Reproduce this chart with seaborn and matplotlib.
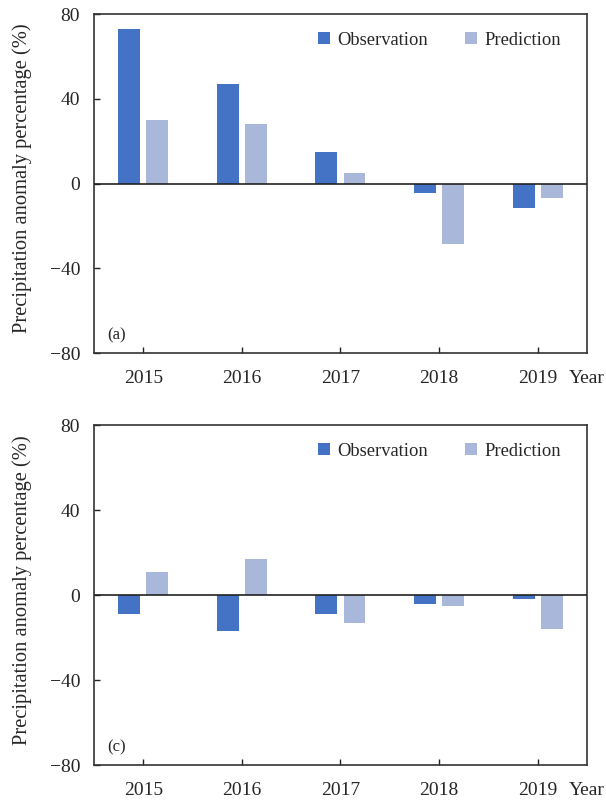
import matplotlib
matplotlib.use("Agg")
import matplotlib.pyplot as plt
import seaborn as sns
import pandas as pd

# Precipitation anomaly percentage by year
years = ["2015", "2016", "2017", "2018", "2019"]
obs_a = [73, 47, 15, -4.5, -11.5]
pred_a = [30, 28, 5, -28.5, -7]
obs_c = [-9, -17, -9, -4, -2]
pred_c = [11, 17, -13, -5, -16]
series = ["Observation", "Prediction"]
panel_tags = ["(a)", "(c)"]
yticks = [-80, -40, 0, 40, 80]

colors = {"Observation": "#4472C4", "Prediction": "#A9B7DB"}

sns.set_style("white")
plt.rcParams["font.family"] = ["Liberation Serif", "DejaVu Serif"]
plt.rcParams["axes.unicode_minus"] = True


def long_frame(obs, pred):
    return pd.DataFrame({
        "year": years * 2,
        "series": [series[0]] * len(years) + [series[1]] * len(years),
        "value": list(obs) + list(pred),
    })


fig = plt.figure(figsize=(6.06, 8.01), dpi=100)
left, width = 0.155, 0.8136
ax_a = fig.add_axes([left, 0.5593, width, 0.4232])
ax_c = fig.add_axes([left, 0.0449, width, 0.4245])

for ax, (obs, pred), tag in zip([ax_a, ax_c], [(obs_a, pred_a), (obs_c, pred_c)], panel_tags):
    df = long_frame(obs, pred)
    sns.barplot(data=df, x="year", y="value", hue="series", order=years,
                hue_order=series, palette=colors, saturation=1,
                width=0.57, gap=0.22, linewidth=0, edgecolor="none",
                errorbar=None, ax=ax)
    ax.axhline(0, color="#222222", lw=1.2, zorder=3)
    ax.set_xlim(-0.5, len(years) - 0.5)
    ax.set_ylim(-80, 80)
    ax.set_yticks(yticks)
    ax.set_xlabel("")
    ax.set_ylabel("Precipitation anomaly percentage (%)", fontsize=14.8)
    ax.yaxis.set_label_coords(-0.126, 0.515)
    ax.tick_params(axis="y", direction="in", length=4, width=1, left=True,
                   labelsize=14, pad=10, color="#222222")
    ax.tick_params(axis="x", direction="in", length=4, width=1, bottom=True,
                   labelsize=14, pad=12, color="#222222")
    for sp in ax.spines.values():
        sp.set_visible(True)
        sp.set_color("#333333")
        sp.set_linewidth(1.2)
    ax.text(0.028, 0.053, tag, transform=ax.transAxes, fontsize=12,
            ha="left", va="center")
    ax.text(0.9635, -0.074, "Year", transform=ax.transAxes, fontsize=14,
            ha="left", va="center")
    ax.legend(loc="center right", bbox_to_anchor=(0.947, 0.923), ncol=2,
              frameon=False, fontsize=13.3, borderpad=0, borderaxespad=0,
              handlelength=0.65, handleheight=0.65, handletextpad=0.4,
              columnspacing=2.0, title=None)

fig.savefig("out.png", dpi=100)
